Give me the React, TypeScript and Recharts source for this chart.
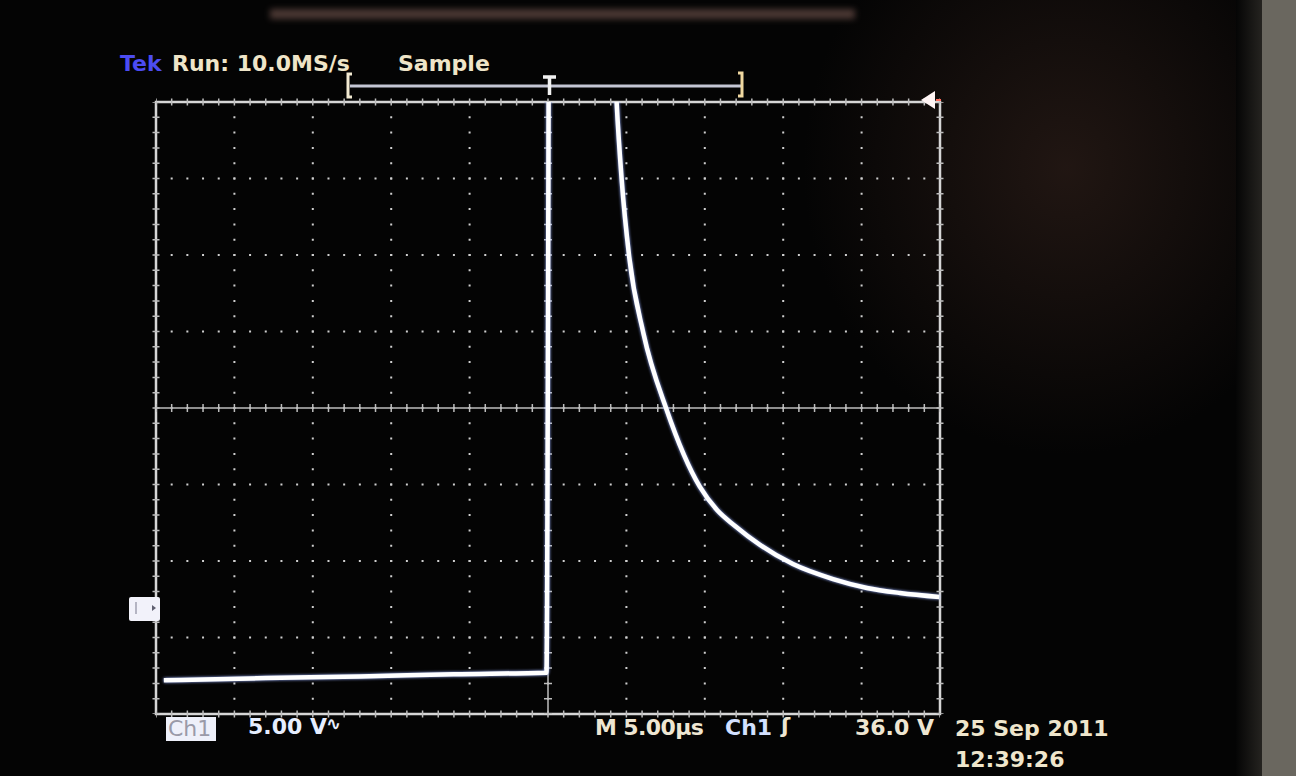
import React from "react";
import {
  LineChart,
  Line,
  XAxis,
  YAxis,
  CartesianGrid,
  ReferenceLine,
  ReferenceArea,
} from "recharts";

// time in microseconds (5 us/div, trigger at 0), voltage in volts (5 V/div)
const timeUs = [
  -24.5, -18, -12, -6, -0.1, 0.15, 3.5, 3.93, 4.16, 4.38, 4.7, 5.18, 6.08,
  7.57, 9.69, 10.78, 11.93, 13.52, 15.62, 18.18, 20.34, 22.45, 24.95,
];
const volts = [
  -4.8, -4.65, -4.55, -4.4, -4.3, 60, 60, 45, 38, 32.93, 27.9, 22.87, 17.9,
  12.87, 7.84, 6.33, 5.29, 4.05, 2.8, 1.82, 1.24, 0.91, 0.65,
];
const xTicks = [-25, -20, -15, -10, -5, 0, 5, 10, 15, 20, 25];
const yTicks = [-7, -2, 3, 8, 13, 18, 23, 28, 33];

const data = timeUs.map((t, i) => ({ t, v: volts[i] }));

const W = 1296;
const H = 776;
const M = { top: 102, right: 356, bottom: 62, left: 156 };
const plotW = W - M.left - M.right;
const plotH = H - M.top - M.bottom;
const stepX = plotW / 50;
const stepY = plotH / 40;

const font = "'DejaVu Sans', 'Liberation Sans', sans-serif";
const cream = "#efe5c8";

const label = (
  text: React.ReactNode,
  left: number,
  top: number,
  color = cream,
  extra: React.CSSProperties = {}
) => (
  <div
    style={{
      position: "absolute",
      left,
      top,
      color,
      fontFamily: font,
      fontWeight: "bold",
      fontSize: 22,
      lineHeight: "22px",
      whiteSpace: "nowrap",
      ...extra,
    }}
  >
    {text}
  </div>
);

export default function App() {
  return (
    <div
      style={{
        position: "absolute",
        left: 0,
        top: 0,
        width: W,
        height: H,
        overflow: "hidden",
        background: "#040404",
      }}
    >
      {/* photo glare and bezel */}
      <div
        style={{
          position: "absolute",
          left: 270,
          top: 9,
          width: 585,
          height: 10,
          background: "#5e4640",
          filter: "blur(3px)",
          opacity: 0.8,
        }}
      />
      <div
        style={{
          position: "absolute",
          left: 780,
          top: 0,
          width: 520,
          height: 480,
          background:
            "radial-gradient(ellipse at 55% 35%, rgba(36,24,20,0.9) 0%, rgba(4,4,4,0) 65%)",
        }}
      />
      <div
        style={{
          position: "absolute",
          left: 1236,
          top: 0,
          width: 30,
          height: H,
          background: "linear-gradient(to right, #050505, #2a2824)",
        }}
      />
      <div
        style={{
          position: "absolute",
          left: 1262,
          top: 0,
          width: 34,
          height: H,
          background: "#6a675f",
        }}
      />

      <div style={{ position: "absolute", left: 0, top: 0 }}>
        <LineChart width={W} height={H} data={data} margin={M}>
          <XAxis
            dataKey="t"
            type="number"
            domain={[-25, 25]}
            ticks={xTicks}
            hide
          />
          <YAxis
            type="number"
            domain={[-7, 33]}
            ticks={yTicks}
            allowDataOverflow
            hide
          />
          <CartesianGrid
            vertical={false}
            stroke="#cfcfcf"
            strokeWidth={2}
            strokeDasharray={`2 ${stepX - 2}`}
            strokeDashoffset={1}
          />
          <CartesianGrid
            horizontal={false}
            stroke="#cfcfcf"
            strokeWidth={2}
            strokeDasharray={`2 ${stepY - 2}`}
            strokeDashoffset={1}
          />
          <ReferenceLine y={13} stroke="#bdbdbd" strokeWidth={1.5} />
          <ReferenceLine
            y={13}
            stroke="#bdbdbd"
            strokeWidth={8}
            strokeDasharray={`1.5 ${stepX - 1.5}`}
            strokeDashoffset={0.75}
          />
          <ReferenceLine x={0} stroke="#bdbdbd" strokeWidth={1.5} />
          <ReferenceLine
            x={0}
            stroke="#bdbdbd"
            strokeWidth={8}
            strokeDasharray={`1.5 ${stepY - 1.5}`}
            strokeDashoffset={0.75}
          />
          {[33, -7].map((y) => (
            <ReferenceLine
              key={"b" + y}
              y={y}
              stroke="#bdbdbd"
              strokeWidth={7}
              strokeDasharray={`1.5 ${stepX - 1.5}`}
              strokeDashoffset={0.75}
            />
          ))}
          {[-25, 25].map((x) => (
            <ReferenceLine
              key={"b" + x}
              x={x}
              stroke="#bdbdbd"
              strokeWidth={7}
              strokeDasharray={`1.5 ${stepY - 1.5}`}
              strokeDashoffset={0.75}
            />
          ))}
          <ReferenceArea
            x1={-25}
            x2={25}
            y1={-7}
            y2={33}
            fill="none"
            stroke="#d6d6d6"
            strokeWidth={2.5}
          />
          <Line
            dataKey="v"
            type="monotone"
            stroke="#ffffff"
            strokeWidth={4.5}
            dot={false}
            isAnimationActive={false}
            style={{ filter: "drop-shadow(0 0 1.5px #9ab0ff)" }}
          />
        </LineChart>
      </div>

      {/* top status line */}
      {label("Tek", 120, 53, "#4c4cf2")}
      {label("Run: 10.0MS/s", 172, 53)}
      {label("Sample", 398, 53)}

      {/* trigger position bar */}
      <svg
        style={{ position: "absolute", left: 0, top: 0 }}
        width={W}
        height={H}
      >
        <line x1={350} y1={86} x2={741} y2={86} stroke="#c4c6d4" strokeWidth={3} />
        <path d="M352 74 L348 74 L348 97 L352 97" stroke="#f2ead2" strokeWidth={3} fill="none" />
        <path d="M738 73 L742 73 L742 96 L738 96" stroke="#f0d8a0" strokeWidth={3} fill="none" />
        <path d="M543 77 L556 77 M549.5 77 L549.5 95" stroke="#f2f2f2" strokeWidth={3.5} fill="none" />
        <polygon points="921,100 935,91 935,109" fill="#fff4f4" />
        <line x1={936} y1={100} x2={941} y2={100} stroke="#ff6a5a" strokeWidth={2} />
        {/* ground marker */}
        <rect x={129} y={597} width={31} height={24} rx={2} fill="#f2f2fa" />
        <line x1={136} y1={602} x2={136} y2={614} stroke="#a0a0b0" strokeWidth={1.5} />
        <polygon points="152,605 152,611 156,608" fill="#606070" />
        {/* Ch1 box */}
        <rect x={166} y={717} width={50} height={24} fill="#eef0fa" />
      </svg>

      {/* bottom status line */}
      {label("Ch1", 168, 718, "#9a9aa8", { fontWeight: "normal" })}
      {label("5.00 V", 248, 716, "#e6eeff")}
      {label("∿", 326, 713, "#e6eeff", { fontSize: 18 })}
      {label("M 5.00µs", 595, 717, "#eee6d2", { letterSpacing: -0.6 })}
      {label("Ch1", 725, 717, "#d2e0ff")}
      {label("ʃ", 781, 715, "#eee6d2")}
      {label("36.0 V", 855, 717, "#eee6d2")}
      {label("25 Sep 2011", 955, 718, "#efe6cc")}
      {label("12:39:26", 955, 749, "#efe6cc")}
    </div>
  );
}
